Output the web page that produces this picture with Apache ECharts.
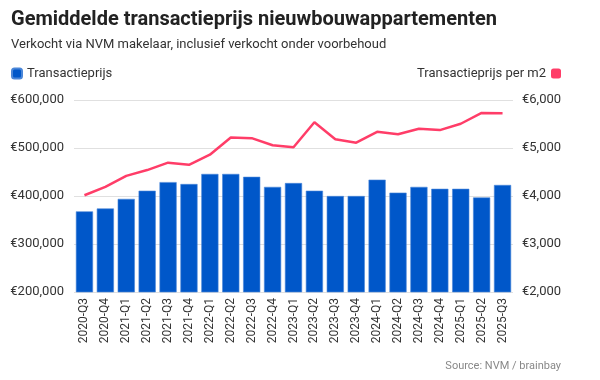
<!DOCTYPE html>
<html><head><meta charset="utf-8">
<script src="https://cdn.jsdelivr.net/npm/echarts@6/dist/echarts.min.js"></script>
<style>html,body{margin:0;padding:0;background:#fff}#c{width:600px;height:380px}</style>
</head><body><div id="c"></div>
<script>
const categories = ["2020-Q3","2020-Q4","2021-Q1","2021-Q2","2021-Q3","2021-Q4","2022-Q1","2022-Q2","2022-Q3","2022-Q4","2023-Q1","2023-Q2","2023-Q3","2023-Q4","2024-Q1","2024-Q2","2024-Q3","2024-Q4","2025-Q1","2025-Q2","2025-Q3"];
const transactieprijs = [368000,374000,394000,411000,429000,425000,446000,446000,440000,419000,427000,411000,400000,400000,434000,407000,419000,415000,415000,397000,423000];
const prijsPerM2 = [4015,4190,4420,4540,4695,4650,4860,5220,5205,5057,5015,5535,5183,5110,5337,5288,5400,5373,5505,5730,5725];
const leftTicks = [200000, 600000, 100000];
const rightTicks = [2000, 6000, 1000];

const fmt = v => '€' + v.toLocaleString('en-US');
const font = 'Roboto, "Noto Sans", sans-serif';
const chart = echarts.init(document.getElementById('c'));
chart.setOption({
  animation: false,
  textStyle: {fontFamily: font},
  title: [
    {text: 'Gemiddelde transactieprijs nieuwbouwappartementen', left: 6, top: 5,
     textStyle: {fontFamily: font, fontSize: 20, fontWeight: 'bold', color: '#222'}},
    {text: 'Verkocht via NVM makelaar, inclusief verkocht onder voorbehoud', left: 6, top: 33,
     textStyle: {fontFamily: font, fontSize: 13, fontWeight: 'normal', color: '#333'}},
    {text: 'Source: NVM / brainbay', right: 34, top: 356,
     textStyle: {fontFamily: font, fontSize: 11, fontWeight: 'normal', color: '#888'}}
  ],
  legend: [
    {data: ['Transactieprijs'], left: 6, top: 62, icon: 'roundRect', itemWidth: 10, itemHeight: 10, itemGap: 8,
     textStyle: {fontFamily: font, fontSize: 13, color: '#333'}},
    {data: ['Transactieprijs per m2'], right: 34, top: 62, icon: 'roundRect', align: 'right', itemWidth: 10, itemHeight: 10,
     textStyle: {fontFamily: font, fontSize: 13, color: '#333'}}
  ],
  grid: {left: 74, right: 87, top: 100, bottom: 88, containLabel: false},
  xAxis: {
    type: 'category', data: categories,
    axisLine: {show: false}, axisTick: {show: false},
    axisLabel: {rotate: 90, fontSize: 12, color: '#333', margin: 6, interval: 0, fontFamily: font}
  },
  yAxis: [
    {type: 'value', min: leftTicks[0], max: leftTicks[1], interval: leftTicks[2], position: 'left',
     axisLabel: {formatter: fmt, fontSize: 13, color: '#333', margin: 10, fontFamily: font},
     splitLine: {lineStyle: {color: '#e0e0e0', width: 1}}, axisLine: {show: false}, axisTick: {show: false}},
    {type: 'value', min: rightTicks[0], max: rightTicks[1], interval: rightTicks[2], position: 'right',
     axisLabel: {formatter: fmt, fontSize: 13, color: '#333', margin: 9, fontFamily: font},
     splitLine: {show: false}, axisLine: {show: false}, axisTick: {show: false}}
  ],
  series: [
    {name: 'Transactieprijs', type: 'bar', data: transactieprijs, yAxisIndex: 0, barCategoryGap: '18%',
     itemStyle: {color: '#0057c9', borderColor: '#4a86d8', borderWidth: 0.6}},
    {name: 'Transactieprijs per m2', type: 'line', data: prijsPerM2, yAxisIndex: 1, showSymbol: false, symbol: 'none',
     lineStyle: {color: '#ff3d68', width: 2.5}, itemStyle: {color: '#ff3d68'}, z: 5}
  ]
});
</script></body></html>
